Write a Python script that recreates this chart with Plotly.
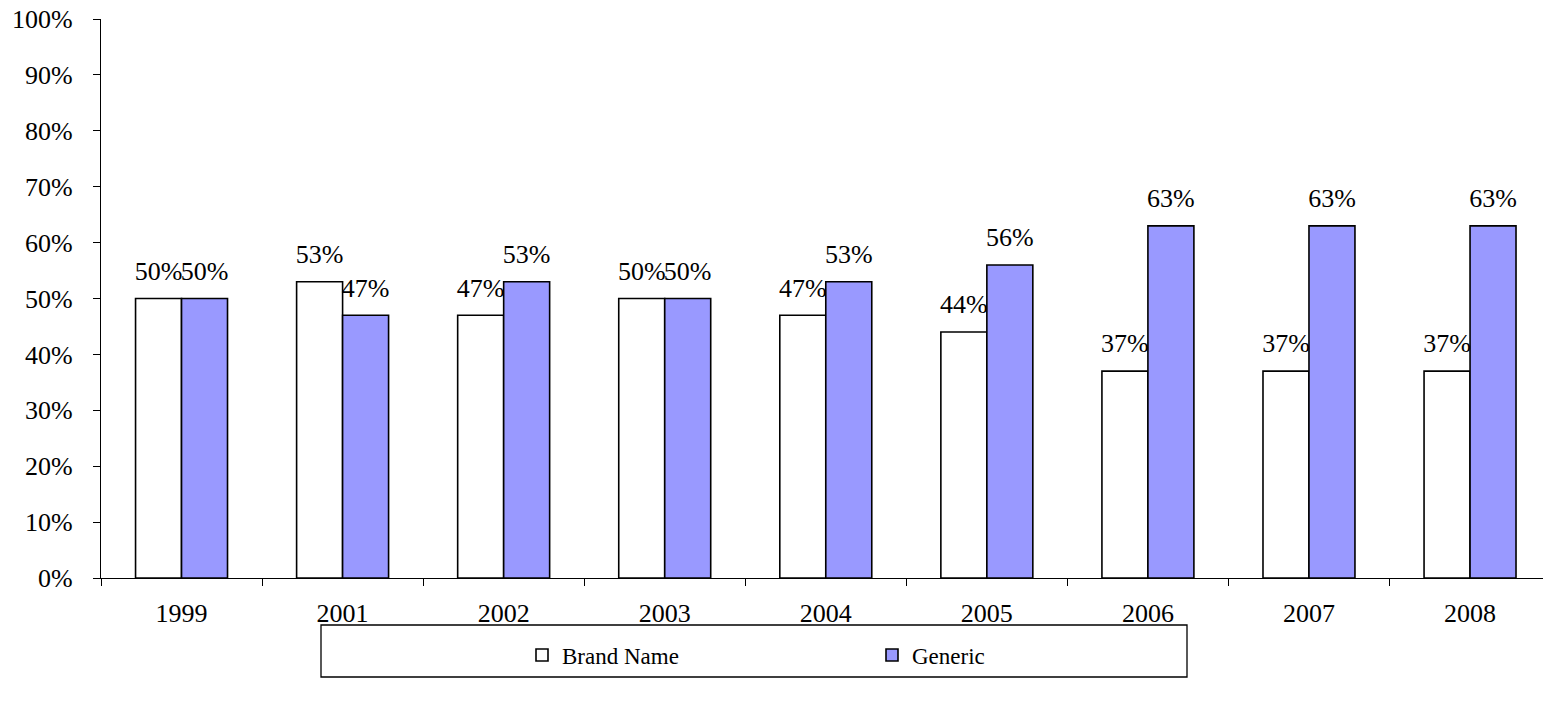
import plotly.graph_objects as go

years = ["1999", "2001", "2002", "2003", "2004", "2005", "2006", "2007", "2008"]
brand_name = [50, 53, 47, 50, 47, 44, 37, 37, 37]
generic = [50, 47, 53, 50, 53, 56, 63, 63, 63]
y_ticks = list(range(0, 101, 10))
y_tick_text = [f"{v}%" for v in y_ticks]

FONT = "Liberation Serif"

W, H = 1543, 705
ML, MT, MB, MR = 101, 19, 127, 0
PW = W - ML - MR
PH = H - MT - MB
GAP = 0.429


def px_x(x):  # page pixel -> paper fraction
    return (x - ML) / PW


def px_y(y):
    return 1 - (y - MT) / PH


fig = go.Figure()
fig.add_trace(go.Bar(name="Brand Name", x=years, y=brand_name,
                     marker=dict(color="#FFFFFF", line=dict(color="#000000", width=1.6))))
fig.add_trace(go.Bar(name="Generic", x=years, y=generic,
                     marker=dict(color="#9999FF", line=dict(color="#000000", width=1.6))))

# value labels: grouped text traces aligned with the bars
for name, series in (("Brand Name", brand_name), ("Generic", generic)):
    fig.add_trace(go.Scatter(
        x=years, y=series, mode="markers+text", orientation="v",
        text=[f"{v}%" for v in series], textposition="top center",
        textfont=dict(family=FONT, size=26, color="#000000"),
        marker=dict(size=18, opacity=0), showlegend=False, hoverinfo="skip",
        cliponaxis=False, name=name + " labels"))

fig.add_shape(type="rect", xref="paper", yref="paper",
              x0=px_x(321), x1=px_x(1187), y0=px_y(677), y1=px_y(625),
              line=dict(color="#000000", width=1.3), fillcolor="rgba(0,0,0,0)")

fig.update_layout(
    width=W, height=H,
    margin=dict(l=ML, r=MR, t=MT, b=MB, autoexpand=False),
    plot_bgcolor="#FFFFFF", paper_bgcolor="#FFFFFF",
    barmode="group", bargap=GAP, bargroupgap=0,
    scattermode="group", scattergap=GAP,
    font=dict(family=FONT, color="#000000", size=26),
    showlegend=True,
    legend=dict(orientation="h", x=px_x(522), y=px_y(655),
                xanchor="left", yanchor="middle",
                entrywidth=305, entrywidthmode="pixels",
                font=dict(family=FONT, size=23, color="#000000"),
                bgcolor="rgba(0,0,0,0)", borderwidth=0),
)
fig.update_xaxes(type="category", range=[-0.5, 8.453], showline=True, linecolor="#000000",
                 linewidth=1.3, ticks="outside", ticklen=7, tickcolor="#000000", tickwidth=1.3,
                 tickson="boundaries", showgrid=False, automargin=False,
                 ticklabelstandoff=12,
                 tickfont=dict(family=FONT, size=26, color="#000000"))
fig.update_yaxes(range=[0, 100], tickvals=y_ticks, ticktext=y_tick_text, showline=True,
                 linecolor="#000000", linewidth=1.3, ticks="outside", ticklen=7,
                 tickcolor="#000000", tickwidth=1.3, showgrid=False, zeroline=False,
                 automargin=False, ticklabelstandoff=15, ticklabeloverflow="allow",
                 tickfont=dict(family=FONT, size=26, color="#000000"))

fig.write_html("out.html", config={"displayModeBar": False},
               post_script="document.body.style.margin='0';document.body.style.overflow='hidden';")
